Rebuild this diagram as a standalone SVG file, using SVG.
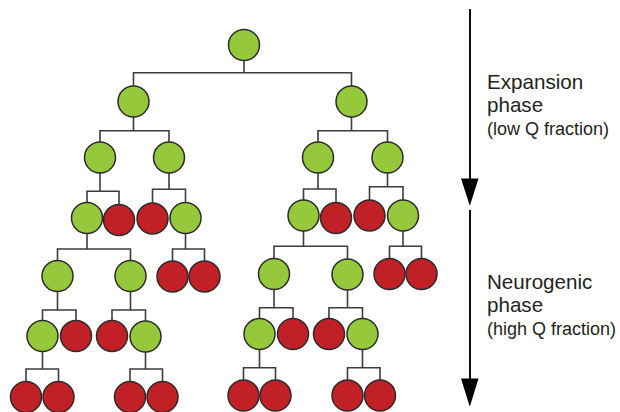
<svg xmlns="http://www.w3.org/2000/svg" width="620" height="412" viewBox="0 0 620 412">
<style>
  .g { fill: #96c83c; stroke: #2b2b2b; stroke-width: 1.5; }
  .r { fill: #c12026; stroke: #2b2b2b; stroke-width: 1.5; }
  .conn path { fill: none; stroke: #3c3c3c; stroke-width: 1.6; }
  .arrow { stroke: #111; stroke-width: 2; }
  .head { fill: #000; }
  .t1 { font-family: "Liberation Sans", Arial, sans-serif; font-size: 20.6px; fill: #231f20; }
  .t2 { font-family: "Liberation Sans", Arial, sans-serif; font-size: 18px; fill: #231f20; }
</style>
<rect width="620" height="412" fill="#fff"/>
<g id="connectors" class="conn">
  <path d="M244,45 V72.7 M133.5,101.5 V72.7 H351.5 V101.5"/>
  <path d="M133.5,101.5 V130.7 M100,157.5 V130.7 H169 V157.5"/>
  <path d="M351.5,101.5 V130.7 M318,157.5 V130.7 H387.5 V157.5"/>
  <path d="M100,157.5 V191.3 M87,218 V191.3 H119 V220"/>
  <path d="M169,157.5 V189.3 M152.5,218.5 V189.3 H185.5 V218"/>
  <path d="M318,157.5 V189 M303.5,215.5 V189 H336 V218"/>
  <path d="M387.5,157.5 V186.7 M369.5,215.5 V186.7 H403 V215.5"/>
  <path d="M87,218 V249 M57.5,276 V249 H130.5 V276"/>
  <path d="M185.5,218 V249 M172.5,276.5 V249 H204.5 V276.5"/>
  <path d="M303.5,215.5 V246.3 M274,274 V246.3 H347.5 V274.5"/>
  <path d="M403,215.5 V246.3 M389.5,274 V246.3 H421.5 V274"/>
  <path d="M57.5,276 V310 M42.5,336 V310 H76 V336"/>
  <path d="M130.5,276 V310 M112,336 V310 H145.5 V336.5"/>
  <path d="M274,274 V307.7 M259.5,334 V307.7 H293 V334"/>
  <path d="M347.5,274.5 V307.7 M329,334 V307.7 H362.5 V334"/>
  <path d="M42.5,336 V369 M26,397 V369 H58.5 V397"/>
  <path d="M145.5,336.5 V369 M130,397 V369 H162.5 V397"/>
  <path d="M259.5,334 V367.7 M243.5,395.5 V367.7 H275.5 V395.5"/>
  <path d="M362.5,334 V367.7 M347.5,395.5 V367.7 H380 V395.5"/>
</g>
<g id="n0"><circle class="g" cx="244" cy="45" r="15.5"/></g>
<g id="n1"><circle class="g" cx="133.5" cy="101.5" r="15.5"/></g>
<g id="n2"><circle class="g" cx="351.5" cy="101.5" r="15.5"/></g>
<g id="n3"><circle class="g" cx="100" cy="157.5" r="15.5"/></g>
<g id="n4"><circle class="g" cx="169" cy="157.5" r="15.5"/></g>
<g id="n5"><circle class="g" cx="318" cy="157.5" r="15.5"/></g>
<g id="n6"><circle class="g" cx="387.5" cy="157.5" r="15.5"/></g>
<g id="n7"><circle class="g" cx="87" cy="218" r="15.5"/></g>
<g id="n8"><circle class="r" cx="119" cy="220" r="15.5"/></g>
<g id="n9"><circle class="r" cx="152.5" cy="218.5" r="15.5"/></g>
<g id="n10"><circle class="g" cx="185.5" cy="218" r="15.5"/></g>
<g id="n11"><circle class="g" cx="303.5" cy="215.5" r="15.5"/></g>
<g id="n12"><circle class="r" cx="336" cy="218" r="15.5"/></g>
<g id="n13"><circle class="r" cx="369.5" cy="215.5" r="15.5"/></g>
<g id="n14"><circle class="g" cx="403" cy="215.5" r="15.5"/></g>
<g id="n15"><circle class="g" cx="57.5" cy="276" r="15.5"/></g>
<g id="n16"><circle class="g" cx="130.5" cy="276" r="15.5"/></g>
<g id="n17"><circle class="r" cx="172.5" cy="276.5" r="15.5"/></g>
<g id="n18"><circle class="r" cx="204.5" cy="276.5" r="15.5"/></g>
<g id="n19"><circle class="g" cx="274" cy="274" r="15.5"/></g>
<g id="n20"><circle class="g" cx="347.5" cy="274.5" r="15.5"/></g>
<g id="n21"><circle class="r" cx="389.5" cy="274" r="15.5"/></g>
<g id="n22"><circle class="r" cx="421.5" cy="274" r="15.5"/></g>
<g id="n23"><circle class="g" cx="42.5" cy="336" r="15.5"/></g>
<g id="n24"><circle class="r" cx="76" cy="336" r="15.5"/></g>
<g id="n25"><circle class="r" cx="112" cy="336" r="15.5"/></g>
<g id="n26"><circle class="g" cx="145.5" cy="336.5" r="15.5"/></g>
<g id="n27"><circle class="g" cx="259.5" cy="334" r="15.5"/></g>
<g id="n28"><circle class="r" cx="293" cy="334" r="15.5"/></g>
<g id="n29"><circle class="r" cx="329" cy="334" r="15.5"/></g>
<g id="n30"><circle class="g" cx="362.5" cy="334" r="15.5"/></g>
<g id="n31"><circle class="r" cx="26" cy="397" r="15.5"/></g>
<g id="n32"><circle class="r" cx="58.5" cy="397" r="15.5"/></g>
<g id="n33"><circle class="r" cx="130" cy="397" r="15.5"/></g>
<g id="n34"><circle class="r" cx="162.5" cy="397" r="15.5"/></g>
<g id="n35"><circle class="r" cx="243.5" cy="395.5" r="15.5"/></g>
<g id="n36"><circle class="r" cx="275.5" cy="395.5" r="15.5"/></g>
<g id="n37"><circle class="r" cx="347.5" cy="395.5" r="15.5"/></g>
<g id="n38"><circle class="r" cx="380" cy="395.5" r="15.5"/></g>
<g id="phase-arrows">
  <line class="arrow" x1="470" y1="9" x2="470" y2="182"/>
  <polygon class="head" points="461,178.5 478.5,178.5 469.8,205.7"/>
  <line class="arrow" x1="470" y1="210" x2="470" y2="382"/>
  <polygon class="head" points="461,378.5 478.5,378.5 469.8,406.7"/>
</g>
<g id="labels">
  <text class="t1" x="487" y="89">Expansion</text>
  <text class="t1" x="487" y="111.5">phase</text>
  <text class="t2" x="487" y="135">(low Q fraction)</text>
  <text class="t1" x="487" y="289">Neurogenic</text>
  <text class="t1" x="487" y="311.5">phase</text>
  <text class="t2" x="487" y="335">(high Q fraction)</text>
</g>
</svg>
